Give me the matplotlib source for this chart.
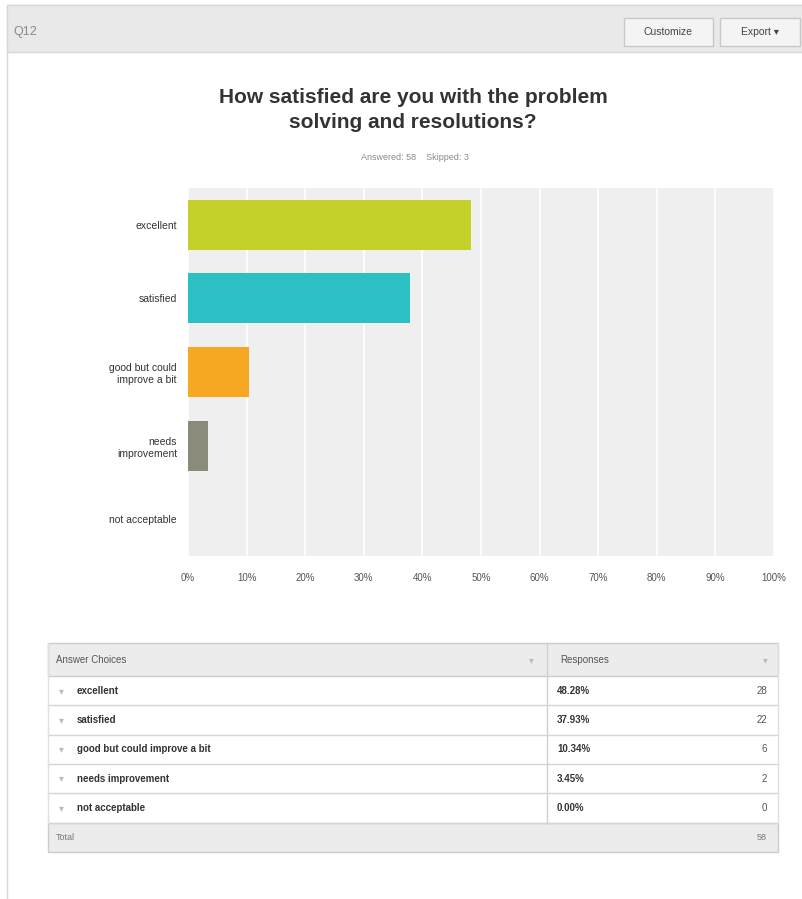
import matplotlib.pyplot as plt
from matplotlib.patches import Rectangle

plt.rcParams["font.family"] = ["Liberation Sans", "DejaVu Sans"]

question = "Q12"
title = "How satisfied are you with the problem\nsolving and resolutions?"
answered = 58
skipped = 3

choices = ["excellent", "satisfied", "good but could improve a bit",
           "needs improvement", "not acceptable"]
axis_labels = ["excellent", "satisfied", "good but could\nimprove a bit",
               "needs\nimprovement", "not acceptable"]
percents = [48.28, 37.93, 10.34, 3.45, 0.00]
counts = [28, 22, 6, 2, 0]
total = 58
colors = ["#c4d12b", "#2cbfc3", "#f6a822", "#8b8b7b", "#6d6d6d"]
ticks = list(range(0, 101, 10))

W, H = 803, 899
fig = plt.figure(figsize=(W / 100, H / 100), dpi=100)

# pixel-space background layer
bg = fig.add_axes([0, 0, 1, 1])
bg.set_xlim(0, W)
bg.set_ylim(H, 0)
bg.axis("off")

# panel border and header bar
bg.add_patch(Rectangle((7, 5), W - 7, H, facecolor="white", edgecolor="#d8d8d8", lw=1))
bg.add_patch(Rectangle((7, 5), W - 7, 47, facecolor="#e9e9e9", edgecolor="#d8d8d8", lw=1))
bg.text(13, 32, question, fontsize=9, color="#8a8a8a", va="center")
for x0, w, label in [(624, 89, "Customize"), (720, 80, "Export \u25be")]:
    bg.add_patch(Rectangle((x0, 18), w, 28, facecolor="#f4f4f4", edgecolor="#c8c8c8", lw=1))
    bg.text(x0 + w / 2, 32, label, fontsize=7.5, color="#444444", ha="center", va="center")

bg.text(413, 110, title, fontsize=15, fontweight="bold", color="#333333",
        ha="center", va="center", linespacing=1.4)
bg.text(415, 157, f"Answered: {answered}    Skipped: {skipped}",
        fontsize=6.5, color="#8a8a8a", ha="center", va="center")

# bar chart
ax = fig.add_axes([188 / W, 1 - 556 / H, 586 / W, 368 / H])
ax.set_facecolor("#efefef")
y = list(range(len(choices)))
ax.barh(y, percents, height=0.68, color=colors, zorder=3)
ax.set_xlim(0, 100)
ax.set_ylim(len(choices) - 0.5, -0.5)
ax.set_xticks(ticks)
ax.set_xticklabels([f"{t}%" for t in ticks], fontsize=7, color="#555555")
ax.set_yticks(y)
ax.set_yticklabels(axis_labels, fontsize=7.5, color="#333333", linespacing=1.3)
ax.tick_params(length=0)
ax.tick_params(axis="x", pad=12)
ax.tick_params(axis="y", pad=8)
ax.grid(axis="x", color="white", lw=1.2, zorder=1)
for s in ax.spines.values():
    s.set_visible(False)

# table
tx0, tx1, tsep = 48, 778, 547
rows_top = 676
rh = 29.3
bg.add_patch(Rectangle((tx0, 643), tx1 - tx0, rows_top - 643, facecolor="#ececec",
                       edgecolor="#cccccc", lw=1))
bg.text(56, 660, "Answer Choices", fontsize=7, color="#555555", va="center")
bg.text(531, 660, "\u25be", fontsize=7, color="#bbbbbb", va="center", ha="center")
bg.text(560, 660, "Responses", fontsize=7, color="#555555", va="center")
bg.text(765, 660, "\u25be", fontsize=7, color="#bbbbbb", va="center", ha="center")

for i, (c, p, n) in enumerate(zip(choices, percents, counts)):
    top = rows_top + i * rh
    cy = top + rh / 2
    bg.plot([tx0, tx1], [top + rh, top + rh], color="#d5d5d5", lw=1)
    bg.text(61, cy, "\u25be", fontsize=7, color="#bbbbbb", va="center", ha="center")
    bg.text(77, cy, c, fontsize=7, color="#333333", va="center", fontweight="bold")
    bg.text(557, cy, f"{p:.2f}%", fontsize=7, color="#333333", va="center", fontweight="bold")
    bg.text(767, cy, str(n), fontsize=7, color="#555555", va="center", ha="right")

bot = rows_top + len(choices) * rh
bg.plot([tsep, tsep], [643, bot], color="#d0d0d0", lw=1)
bg.plot([tx0, tx0], [643, bot], color="#e0e0e0", lw=1)
bg.plot([tx1, tx1], [643, bot], color="#e0e0e0", lw=1)
bg.add_patch(Rectangle((tx0, bot), tx1 - tx0, 29, facecolor="#ececec", edgecolor="#cccccc", lw=1))
bg.text(56, bot + 14.5, "Total", fontsize=6.5, color="#777777", va="center")
bg.text(767, bot + 14.5, str(total), fontsize=6.5, color="#777777", va="center", ha="right")

fig.savefig("out.png", dpi=100)
